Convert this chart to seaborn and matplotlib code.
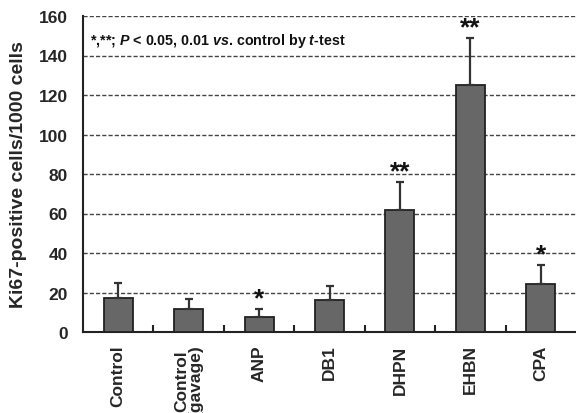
import matplotlib
matplotlib.use("Agg")
import matplotlib.pyplot as plt
import seaborn as sns
import pandas as pd
import numpy as np

categories = ["Control", "Control\n(gavage)", "ANP", "DB1", "DHPN", "EHBN", "CPA"]
means = [17, 11.5, 7.5, 16, 62, 125, 24.5]
errors = [8, 5, 4, 7.5, 14, 24, 9.5]
stars = ["", "", "*", "", "**", "**", "*"]

sns.set_theme(style="white")
plt.rcParams['font.family'] = ['Liberation Sans', 'DejaVu Sans']
plt.rcParams['mathtext.fontset'] = 'custom'
plt.rcParams['mathtext.it'] = 'Liberation Sans:italic:bold'
plt.rcParams['mathtext.rm'] = 'Liberation Sans:bold'

df = pd.DataFrame({"group": categories, "value": means})

fig = plt.figure(figsize=(5.76, 4.14), dpi=100)
ax = fig.add_axes([83/576, 1-333/414, 1-83/576, (333-17)/414])

sns.barplot(data=df, x="group", y="value", order=categories, color="#676767",
            saturation=1, width=0.41, edgecolor="#222222", linewidth=1.3,
            errorbar=None, ax=ax, zorder=3)

x = np.arange(len(categories))
ax.errorbar(x, means, yerr=[np.zeros(len(errors)), errors], fmt="none",
            ecolor="#333333", elinewidth=1.6, capsize=3, capthick=1.6, zorder=4)

for xi, m, e, s in zip(x, means, errors, stars):
    if s:
        ax.annotate(s, (xi, m + e), xytext=(0, -1), textcoords="offset points",
                    ha="center", va="bottom", fontsize=19, fontweight="bold",
                    color="#111111")

ax.set_ylim(0, 160)
ax.set_xlim(-0.5, 6.5)
ax.set_yticks(range(0, 161, 20))
ax.yaxis.grid(True, linestyle=(0, (3, 1.5)), color="#444444", linewidth=1.0, zorder=0)
ax.set_axisbelow(True)

for side in ["top", "right"]:
    ax.spines[side].set_visible(False)
for side in ["left", "bottom"]:
    ax.spines[side].set_color("#222222")
    ax.spines[side].set_linewidth(1.5)

ax.set_xticks(x)
ax.set_xticklabels(categories, rotation=90, fontsize=12.5, fontweight="bold",
                   va="top", ha="center", linespacing=0.85)
ax.tick_params(axis="x", length=0, pad=9)
ax.set_xticks(np.arange(0.5, 6.5, 1), minor=True)
ax.tick_params(axis="x", which="minor", direction="in", length=5, width=1.5,
               color="#222222", bottom=True)
ax.tick_params(axis="y", length=0, labelsize=12.5, pad=11)
for lbl in ax.get_yticklabels():
    lbl.set_fontweight("bold")

ax.set_xlabel("")
ax.set_ylabel("Ki67-positive cells/1000 cells", fontsize=14, fontweight="bold",
              labelpad=8)

ax.text(0.015, 0.925, r"*,**; $P$ < 0.05, 0.01 $vs$. control by $t$-test",
        transform=ax.transAxes, fontsize=10.3, fontweight="bold", va="center",
        ha="left", color="#111111")

fig.savefig("out.png", dpi=100)
